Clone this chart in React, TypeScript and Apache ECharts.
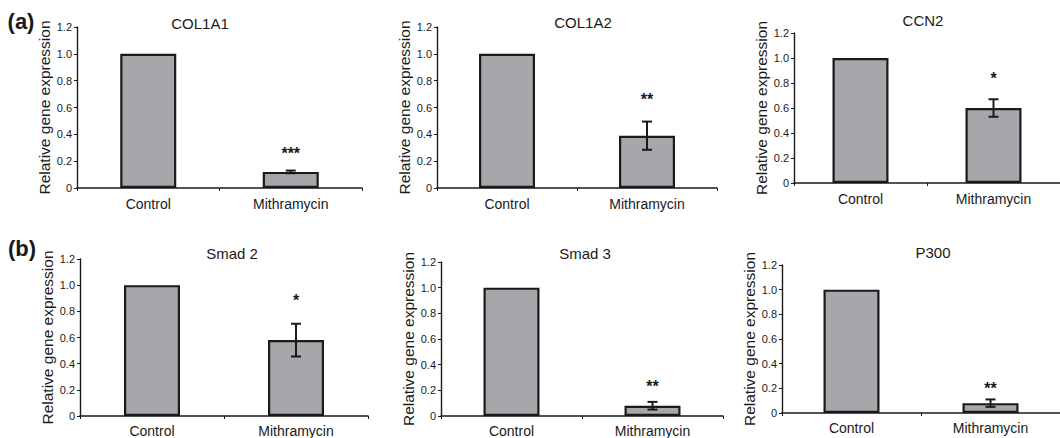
import React, { useEffect, useRef } from "react";
import * as echarts from "echarts";

const titles = ["COL1A1", "COL1A2", "CCN2", "Smad 2", "Smad 3", "P300"];
const categories = ["Control", "Mithramycin"];
const controlValues = [1.0, 1.0, 1.0, 1.0, 1.0, 1.0];
const mithramycinValues = [0.12, 0.39, 0.6, 0.58, 0.08, 0.08];
const mithramycinErrors = [0.01, 0.105, 0.07, 0.125, 0.03, 0.03];
const significance = ["***", "**", "*", "*", "**", "**"];
const significanceLevels = [0.26, 0.66, 0.84, 0.88, 0.23, 0.2];
const yTicks = [0, 0.2, 0.4, 0.6, 0.8, 1.0, 1.2];
const panelLetters = ["(a)", "(b)"];
const yAxisTitle = "Relative gene expression";

// layout (pixels): plot area of each panel and its title centre
const layout = [
  { left: 77, top: 27, width: 285, height: 161, tx: 200, ty: 23 },
  { left: 437, top: 27, width: 280, height: 161, tx: 583, ty: 22 },
  { left: 794, top: 33, width: 274, height: 150, tx: 923, ty: 20 },
  { left: 80, top: 259, width: 288, height: 158, tx: 232, ty: 253 },
  { left: 441, top: 262, width: 282, height: 155, tx: 585, ty: 253 },
  { left: 782, top: 265, width: 286, height: 148, tx: 933, ty: 252 },
];
const letterPos = [
  { x: 21, y: 21 },
  { x: 22, y: 248 },
];

const FONT = "Liberation Sans, Arial, Helvetica, sans-serif";
const INK = "#1a1a1a";
const BAR = "#a6a7aa";

export default function App() {
  const ref = useRef<HTMLDivElement>(null);

  useEffect(() => {
    if (!ref.current) return;
    const chart = echarts.init(ref.current, null, { renderer: "svg" });

    const grids = layout.map((l) => ({
      left: l.left,
      top: l.top,
      width: l.width,
      height: l.height,
      containLabel: false,
    }));
    const xAxes = layout.map((l, i) => ({
      type: "category",
      gridIndex: i,
      data: categories,
      axisLine: { lineStyle: { color: INK, width: 1.6 } },
      axisTick: { show: true, length: 3, lineStyle: { color: INK, width: 1 } },
      axisLabel: {
        color: INK,
        fontSize: 14,
        fontFamily: FONT,
        margin: i < 3 ? 9 : 8,
      },
    }));
    const yAxes = layout.map((l, i) => ({
      type: "value",
      gridIndex: i,
      min: yTicks[0],
      max: yTicks[yTicks.length - 1],
      interval: 0.2,
      splitLine: { show: false },
      axisLine: { show: true, lineStyle: { color: INK, width: 1.4 } },
      axisTick: { show: true, length: 3, lineStyle: { color: INK, width: 1 } },
      axisLabel: {
        color: INK,
        fontSize: 11,
        fontFamily: FONT,
        margin: 5,
        formatter: (v: number) => (v === 0 ? "0" : v.toFixed(1)),
      },
      name: yAxisTitle,
      nameLocation: "middle",
      nameGap: 24,
      nameTextStyle: { color: INK, fontSize: 15.5, fontFamily: FONT },
    }));

    const series: any[] = [];
    titles.forEach((t, i) => {
      series.push({
        type: "bar",
        xAxisIndex: i,
        yAxisIndex: i,
        barWidth: 56,
        data: [controlValues[i], mithramycinValues[i]],
        itemStyle: { color: BAR, borderColor: INK, borderWidth: 2.2 },
        silent: true,
      });
      series.push({
        type: "custom",
        xAxisIndex: i,
        yAxisIndex: i,
        data: [[1, mithramycinValues[i], mithramycinErrors[i], significanceLevels[i]]],
        encode: { x: 0, y: 1 },
        silent: true,
        z: 5,
        renderItem: (params: any, api: any) => {
          const x = api.value(0);
          const v = api.value(1);
          const e = api.value(2);
          const s = api.value(3);
          const top = api.coord([x, v + e]);
          const bot = api.coord([x, v - e]);
          const star = api.coord([x, s]);
          const cap = 5;
          const ls = { stroke: INK, lineWidth: 2 };
          return {
            type: "group",
            children: [
              { type: "line", shape: { x1: top[0], y1: top[1], x2: bot[0], y2: bot[1] }, style: ls },
              { type: "line", shape: { x1: top[0] - cap, y1: top[1], x2: top[0] + cap, y2: top[1] }, style: ls },
              { type: "line", shape: { x1: bot[0] - cap, y1: bot[1], x2: bot[0] + cap, y2: bot[1] }, style: ls },
              {
                type: "text",
                x: star[0],
                y: star[1],
                style: {
                  text: significance[i],
                  fill: INK,
                  fontSize: 16,
                  fontWeight: "bold",
                  fontFamily: FONT,
                  align: "center",
                  verticalAlign: "middle",
                  textAlign: "center",
                  textVerticalAlign: "middle",
                },
              },
            ],
          };
        },
      });
    });

    const graphic: any[] = titles.map((t, i) => ({
      type: "text",
      x: layout[i].tx,
      y: layout[i].ty,
      style: {
        text: t,
        fill: INK,
        font: `15px ${FONT}`,
        textAlign: "center",
        textVerticalAlign: "middle",
        align: "center",
        verticalAlign: "middle",
      },
    }));
    panelLetters.forEach((p, i) => {
      graphic.push({
        type: "text",
        x: letterPos[i].x,
        y: letterPos[i].y,
        style: {
          text: p,
          fill: INK,
          font: `bold 22px ${FONT}`,
          textAlign: "center",
          textVerticalAlign: "middle",
          align: "center",
          verticalAlign: "middle",
        },
      });
    });

    chart.setOption({
      animation: false,
      backgroundColor: "#ffffff",
      grid: grids,
      xAxis: xAxes,
      yAxis: yAxes,
      series,
      graphic,
    });
    return () => chart.dispose();
  }, []);

  return (
    <div
      ref={ref}
      style={{ position: "absolute", left: 0, top: 0, width: 1060, height: 438 }}
    />
  );
}
